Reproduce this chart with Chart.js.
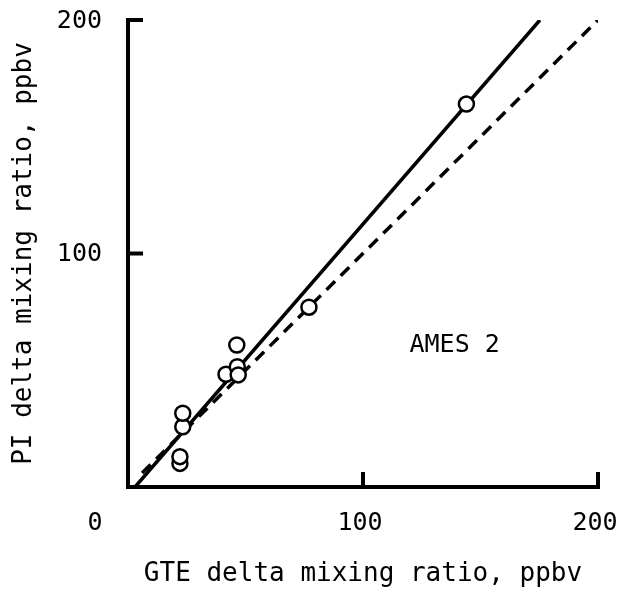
<!DOCTYPE html>
<html>
<head>
<meta charset="utf-8">
<script src="https://cdn.jsdelivr.net/npm/chart.js@4.4.1/dist/chart.umd.min.js"></script>
<style>
  html, body { margin: 0; padding: 0; background: #fff; }
  #wrap { width: 618px; height: 592px; }
</style>
</head>
<body>
<div id="wrap"><canvas id="ratioChart"></canvas></div>
<script>
// GTE vs PI delta mixing ratios (ppbv), AMES 2
const gteValues = [22.1, 22.1, 23.3, 23.3, 41.7, 46.5, 46.9, 46.3, 77, 144];
const piValues = [10.1, 13.0, 25.8, 31.6, 48.3, 51.5, 48.0, 60.8, 77, 164];

// least-squares fit and 1:1 reference line
const fitX = [3, 175.3];
const fitY = [0, 200];
const oneToOneX = [6, 200];
const oneToOneY = [6, 200];

const axisTicks = [0, 100, 200];
const panelLabel = 'AMES 2';

const FONT = "'DejaVu Sans Mono', monospace";

const toXY = (xs, ys) => xs.map((x, i) => ({ x: x, y: ys[i] }));

// inward tick marks + tick labels (drawn here so they don't squeeze the plot),
// the shared "0" at the corner and the panel label
const decorations = {
  id: 'decorations',
  afterDraw(chart) {
    const { ctx, scales: { x, y } } = chart;
    const len = 13;
    ctx.save();
    ctx.strokeStyle = '#000';
    ctx.fillStyle = '#000';
    ctx.lineWidth = 4;
    ctx.lineCap = 'square';
    ctx.font = '25px ' + FONT;
    ctx.textBaseline = 'middle';
    axisTicks.filter(v => v > 0).forEach(v => {
      const px = x.getPixelForValue(v);
      ctx.beginPath();
      ctx.moveTo(px, y.bottom);
      ctx.lineTo(px, y.bottom - len);
      ctx.stroke();
      ctx.textAlign = 'center';
      ctx.fillText(String(v), px - 3, y.bottom + 36);

      const py = y.getPixelForValue(v);
      ctx.beginPath();
      ctx.moveTo(x.left, py);
      ctx.lineTo(x.left + len, py);
      ctx.stroke();
      ctx.textAlign = 'right';
      ctx.fillText(String(v), x.left - 26, py + 1);
    });
    ctx.textAlign = 'center';
    ctx.fillText('0', x.getPixelForValue(0) - 33, y.bottom + 36);
    ctx.fillText(panelLabel, x.getPixelForValue(139), y.getPixelForValue(60.8));
    ctx.restore();
  }
};

const ctx = document.getElementById('ratioChart').getContext('2d');

const config = {
  type: 'scatter',
  data: {
    datasets: [{
        label: 'fit',
        type: 'line',
        data: toXY(fitX, fitY),
        borderColor: '#000',
        borderWidth: 3.5,
        pointRadius: 0,
        fill: false,
        order: 2
      },
      {
        label: '1:1',
        type: 'line',
        data: toXY(oneToOneX, oneToOneY),
        borderColor: '#000',
        borderWidth: 3.5,
        borderDash: [12, 8],
        pointRadius: 0,
        fill: false,
        order: 3
      },
      {
        label: 'AMES 2',
        data: toXY(gteValues, piValues),
        backgroundColor: '#fff',
        borderColor: '#000',
        borderWidth: 2.5,
        pointRadius: 7.5,
        order: 1
      }
    ]
  },
  options: {
    responsive: true,
    maintainAspectRatio: false,
    animation: false,
    layout: { padding: { top: 20, right: 20, left: 0, bottom: 0 } },
    plugins: {
      legend: { display: false },
      tooltip: { enabled: false }
    },
    scales: {
      x: {
        type: 'linear',
        min: 0,
        max: 200,
        afterFit(scale) { scale.height = 105; },
        grid: { display: false, drawTicks: false },
        border: { display: true, color: '#000', width: 4 },
        ticks: { display: false },
        title: {
          display: true,
          text: 'GTE delta mixing ratio, ppbv',
          color: '#000',
          font: { family: FONT, size: 26 },
          padding: { top: 0, bottom: 2 }
        }
      },
      y: {
        type: 'linear',
        min: 0,
        max: 200,
        afterFit(scale) { scale.width = 128; },
        grid: { display: false, drawTicks: false },
        border: { display: true, color: '#000', width: 4 },
        ticks: { display: false },
        title: {
          display: true,
          text: 'PI delta mixing ratio, ppbv',
          color: '#000',
          font: { family: FONT, size: 26 },
          padding: { top: 9, bottom: 0 }
        }
      }
    }
  },
  plugins: [decorations]
};

const ratioChart = new Chart(ctx, config);
</script>
</body>
</html>
